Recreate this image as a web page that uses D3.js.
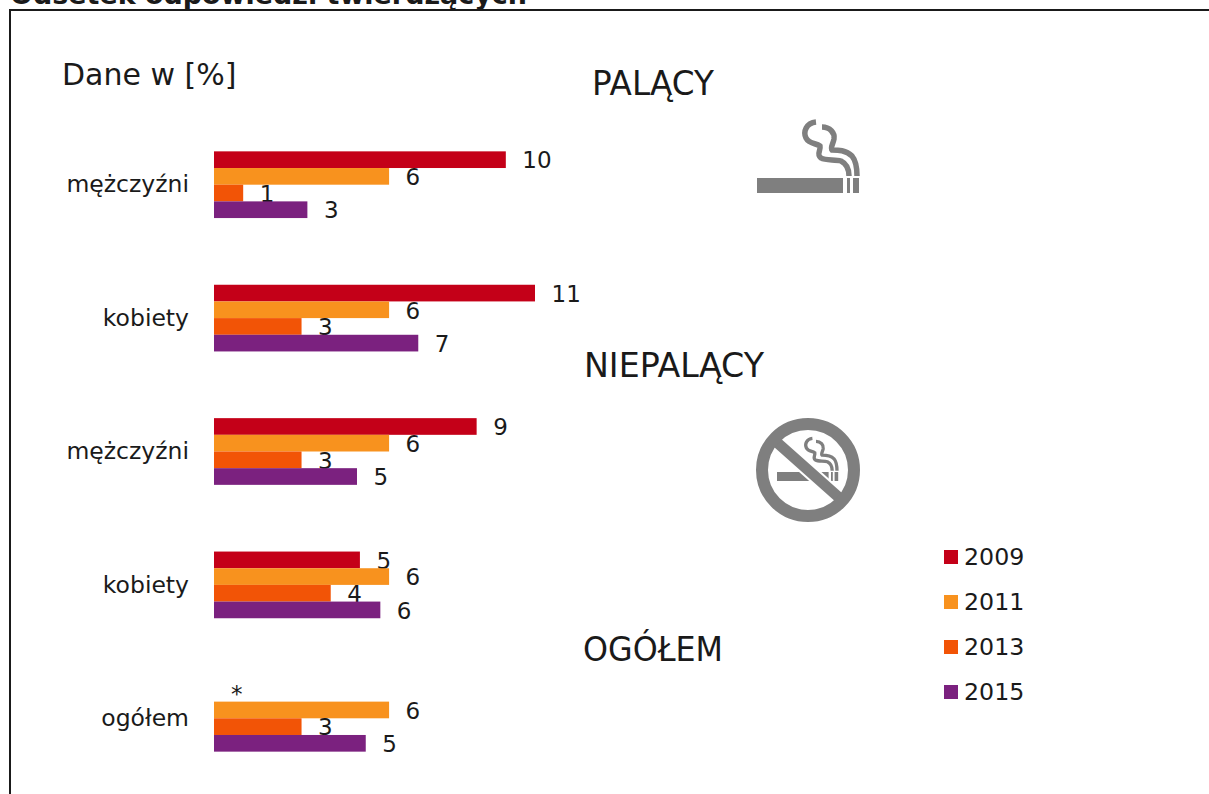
<!DOCTYPE html>
<html><head><meta charset="utf-8">
<script src="https://cdn.jsdelivr.net/npm/d3@7/dist/d3.min.js"></script>
<style>
html,body{margin:0;padding:0;background:#fff;overflow:hidden}
svg{display:block}
text{font-family:"DejaVu Sans",Verdana,sans-serif;fill:#1a1a1a}
</style></head><body>
<svg id="c" width="1209" height="794"></svg>
<script>
const categories = ["mężczyźni","kobiety","mężczyźni","kobiety","ogółem"];
const years = ["2009","2011","2013","2015"];
const colors = ["#C40018","#F8921E","#F25406","#7B217F"];
const v2009 = [10, 11, 9, 5, null];
const v2011 = [6, 6, 6, 6, 6];
const v2013 = [1, 3, 3, 4, 3];
const v2015 = [3.2, 7, 4.9, 5.7, 5.2];
const series = [v2009, v2011, v2013, v2015];
const groupHeadings = [["PALĄCY",592,95,122],["NIEPALĄCY",584,377,180],["OGÓŁEM",583,661,140]];

const svg = d3.select("#c");
svg.append("path").attr("d","M10,794V10H1209").attr("fill","none").attr("stroke","#1a1a1a").attr("stroke-width",2);
svg.append("text").attr("x",10).attr("y",4).attr("font-weight","bold").attr("font-size",27)
   .attr("textLength",517).attr("lengthAdjust","spacingAndGlyphs").text("Odsetek odpowiedzi twierdzących");
svg.append("text").attr("x",62).attr("y",85).attr("font-size",30).text("Dane w [%]");
groupHeadings.forEach(h=>svg.append("text").attr("x",h[1]).attr("y",h[2]).attr("font-size",33)
   .attr("textLength",h[3]).attr("lengthAdjust","spacingAndGlyphs").text(h[0]));

const x = d3.scaleLinear().domain([0,11]).range([214,535]);
const y = d3.scaleBand().domain(d3.range(categories.length)).range([118,785]).paddingInner(0.5).paddingOuter(0.25);
const inner = d3.scaleBand().domain(d3.range(years.length)).range([0,y.bandwidth()]);

const axis = d3.axisLeft(y).tickSize(0).tickPadding(0).tickFormat(i=>categories[i]);
const ag = svg.append("g").attr("transform","translate(189,0)").call(axis);
ag.select(".domain").remove();
ag.selectAll("text").attr("font-size",23.5).attr("font-family",null).attr("dy","0.33em");
ag.attr("font-family",null).attr("font-size",null);

series.forEach((vals,s)=>{
  const g = svg.append("g");
  const present = vals.map((v,i)=>({v,i})).filter(d=>d.v!==null);
  g.selectAll("rect").data(present).join("rect")
    .attr("x",x(0)).attr("y",d=>y(d.i)+inner(s))
    .attr("width",d=>x(d.v)-x(0)).attr("height",inner.bandwidth())
    .attr("fill",colors[s]);
  g.selectAll("text").data(vals.map((v,i)=>({v,i}))).join("text")
    .attr("x",d=>d.v===null?231:x(d.v)+16.5)
    .attr("y",d=>y(d.i)+inner(s)+inner.bandwidth()/2+0.5)
    .attr("dy","0.36em").attr("font-size",23)
    .text(d=>d.v===null?"*":d3.format(".0f")(d.v));
});

const lg = svg.append("g").selectAll("g").data(years).join("g")
  .attr("transform",(d,i)=>`translate(944,${557+45*i})`);
lg.append("rect").attr("y",-7).attr("width",14).attr("height",14).attr("fill",(d,i)=>colors[i]);
lg.append("text").attr("x",20).attr("dy","0.32em").attr("font-size",23.7).text(d=>d);

function cigarette(g){
  g.append("path").attr("fill","#7f7f7f").attr("d","M757,178H843V193H757ZM847,178H850V193H847ZM853,178H859V193H853Z");
  g.append("path").attr("fill","none").attr("stroke","#7f7f7f").attr("stroke-width",5.5)
   .attr("d","M816,122C806,123 803,132 806,138C809,144 816,143 820,146C821,151 816,154 821,158C826,161 835,159 841,161C847,164 849,170 849,176");
  g.append("path").attr("fill","none").attr("stroke","#7f7f7f").attr("stroke-width",5.5)
   .attr("d","M822,127C830,127 835,133 834,139C833,144 830,148 832,150C838,150 846,150 852,156C857,162 857,170 857,176");
}
cigarette(svg.append("g"));
const ns = svg.append("g");
cigarette(ns.append("g").attr("transform","translate(777,481) scale(.6) translate(-757,-193)"));
ns.append("line").attr("x1",772).attr("y1",438).attr("x2",844).attr("y2",502).attr("stroke","#fff").attr("stroke-width",15);
ns.append("line").attr("x1",772).attr("y1",438).attr("x2",844).attr("y2",502).attr("stroke","#7f7f7f").attr("stroke-width",11);
ns.append("circle").attr("cx",808).attr("cy",470).attr("r",46).attr("fill","none").attr("stroke","#7f7f7f").attr("stroke-width",12);
</script>
</body></html>
